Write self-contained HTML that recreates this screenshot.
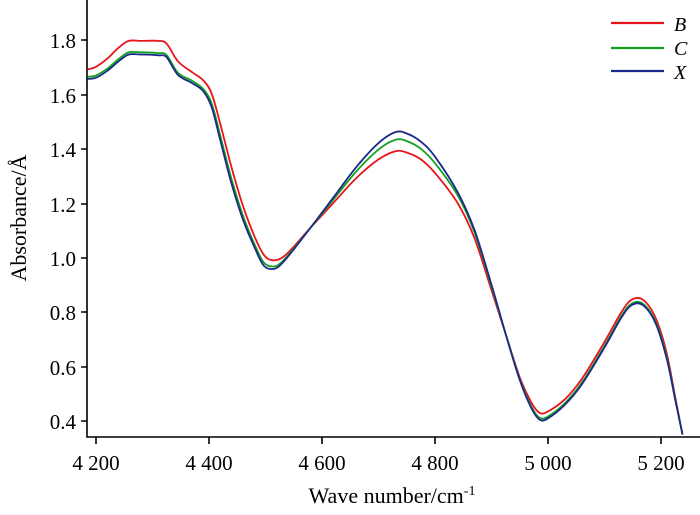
<!DOCTYPE html>
<html><head><meta charset="utf-8"><style>
body{margin:0;background:#fff}
svg{display:block}
text{font-family:"Liberation Serif","Times New Roman",serif}
</style></head><body>
<svg id="s" width="700" height="515" xmlns="http://www.w3.org/2000/svg">
<g fill="none" stroke="#000" stroke-width="1.6">
<path d="M87,0 V437 H700"/>
<path d="M96,437v7M209,437v7M322,437v7M435,437v7M548,437v7M661,437v7"/>
<path d="M87,40h-6M87,95h-6M87,149h-6M87,204h-6M87,258h-6M87,312h-6M87,367h-6M87,421h-6"/>
</g>
<g font-size="21" text-anchor="end" font-family="Liberation Serif, serif">
<text x="76" y="48">1.8</text><text x="76" y="103">1.6</text><text x="76" y="157">1.4</text>
<text x="76" y="212">1.2</text><text x="76" y="266">1.0</text><text x="76" y="320">0.8</text>
<text x="76" y="375">0.6</text><text x="76" y="429">0.4</text>
</g>
<g font-size="21" text-anchor="middle" font-family="Liberation Serif, serif">
<text x="96" y="470">4 200</text><text x="209" y="470">4 400</text><text x="322" y="470">4 600</text>
<text x="435" y="470">4 800</text><text x="548" y="470">5 000</text><text x="661" y="470">5 200</text>
<text x="392" y="503" font-size="22">Wave number/cm<tspan font-size="14" dy="-8">-1</tspan></text>
<text transform="translate(26,218) rotate(-90)" font-size="22">Absorbance/Å</text>
</g>
<g stroke-width="2.2">
<line x1="611" y1="23" x2="664" y2="23" stroke="#e8141b"/>
<line x1="611" y1="48" x2="664" y2="48" stroke="#14a01e"/>
<line x1="611" y1="71" x2="664" y2="71" stroke="#1a2a8a"/>
</g>
<g font-size="20" font-style="italic" font-family="Liberation Serif, serif">
<text x="674" y="31">B</text><text x="674" y="55">C</text><text x="674" y="79">X</text>
</g>
<g id="c" fill="none" stroke-width="1.8" stroke-linejoin="round"></g>
</svg>
<script>
function X(w){return 96+(w-4200)*113/200}
function Y(a){return 421-(a-0.4)*272.5/1.0}
var blue=[[4185,1.655],[4200,1.66],[4220,1.685],[4240,1.72],[4258,1.745],[4280,1.745],[4310,1.742],[4325,1.735],[4345,1.67],[4370,1.64],[4390,1.61],[4405,1.55],[4420,1.43],[4440,1.27],[4460,1.14],[4480,1.04],[4497,0.97],[4515,0.958],[4530,0.98],[4550,1.03],[4580,1.11],[4620,1.22],[4660,1.33],[4700,1.42],[4730,1.46],[4750,1.455],[4775,1.425],[4800,1.37],[4840,1.24],[4870,1.1],[4900,0.9],[4925,0.72],[4950,0.55],[4970,0.45],[4985,0.405],[5000,0.41],[5030,0.46],[5060,0.535],[5100,0.67],[5130,0.78],[5148,0.825],[5168,0.825],[5190,0.76],[5210,0.63],[5225,0.48],[5238,0.35]];
var red=[[4185,1.69],[4200,1.70],[4220,1.73],[4240,1.77],[4258,1.795],[4280,1.795],[4310,1.795],[4325,1.785],[4345,1.72],[4370,1.68],[4390,1.65],[4405,1.6],[4420,1.49],[4440,1.33],[4460,1.19],[4480,1.08],[4497,1.01],[4512,0.99],[4530,1.0],[4550,1.04],[4580,1.11],[4620,1.2],[4660,1.29],[4700,1.36],[4730,1.39],[4750,1.385],[4775,1.36],[4800,1.31],[4840,1.2],[4870,1.07],[4900,0.88],[4925,0.72],[4950,0.56],[4970,0.47],[4985,0.43],[5000,0.435],[5030,0.48],[5060,0.555],[5100,0.69],[5130,0.8],[5148,0.845],[5168,0.845],[5190,0.78],[5210,0.65],[5225,0.49],[5238,0.35]];
var green=blue.map(function(p,i){return [p[0],p[1]*0.72+red[i][1]*0.28]});
green.forEach(function(p,i){ if(p[0]>=4600&&p[0]<=4830) p[1]=blue[i][1]*0.6+red[i][1]*0.4; if(p[0]<4400) p[1]=blue[i][1]+0.008;});
function path(d,c){var pts=d.map(function(p){return [X(p[0]),Y(p[1])]});
var s='M'+pts[0][0].toFixed(1)+','+pts[0][1].toFixed(1);
for(var i=0;i<pts.length-1;i++){var p0=pts[i-1]||pts[i],p1=pts[i],p2=pts[i+1],p3=pts[i+2]||p2;
var c1x=p1[0]+(p2[0]-p0[0])/6,c1y=p1[1]+(p2[1]-p0[1])/6,c2x=p2[0]-(p3[0]-p1[0])/6,c2y=p2[1]-(p3[1]-p1[1])/6;
s+='C'+c1x.toFixed(1)+','+c1y.toFixed(1)+' '+c2x.toFixed(1)+','+c2y.toFixed(1)+' '+p2[0].toFixed(1)+','+p2[1].toFixed(1);}
var e=document.createElementNS('http://www.w3.org/2000/svg','path');e.setAttribute('d',s);e.setAttribute('stroke',c);document.getElementById('c').appendChild(e);}
path(red,'#e8141b');path(green,'#14a01e');path(blue,'#1a2a8a');
</script>
</body></html>
